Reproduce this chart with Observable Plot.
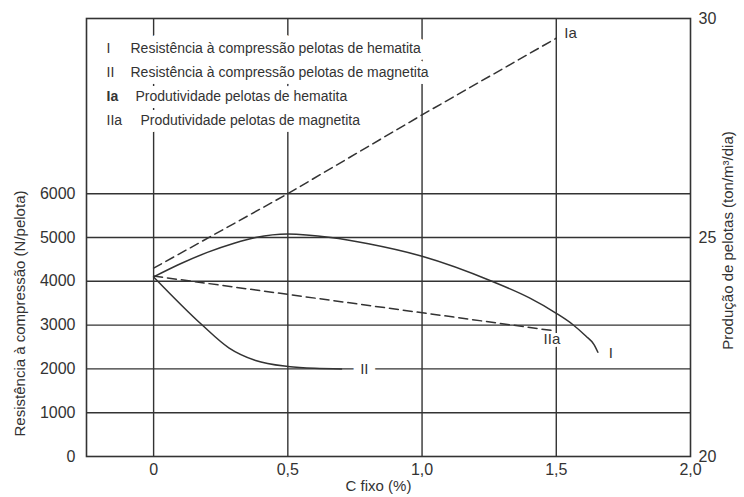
<!DOCTYPE html>
<html>
<head>
<meta charset="utf-8">
<script src="https://cdn.jsdelivr.net/npm/d3@7"></script>
<script src="https://cdn.jsdelivr.net/npm/@observablehq/plot@0.6"></script>
<style>
  html, body { margin: 0; padding: 0; background: white; }
</style>
</head>
<body>
<div id="chart"></div>
<script>
// ---- data ----
// Curve I: Resistência à compressão pelotas de hematita (N/pelota)
const cFixoI   = [0, 0.1, 0.2, 0.3, 0.38, 0.5, 0.66, 0.8, 1.0, 1.26, 1.4, 1.5, 1.56, 1.61, 1.64, 1.655];
const resistI  = [4100, 4400, 4660, 4870, 5000, 5080, 5000, 4855, 4570, 4000, 3620, 3270, 3020, 2750, 2560, 2380];
// Curve II: Resistência à compressão pelotas de magnetita (N/pelota)
const cFixoII  = [0, 0.18, 0.28, 0.38, 0.5, 0.6, 0.7];
const resistII = [4100, 3007, 2482, 2192, 2055, 2012, 2000];
// Curve Ia: Produtividade pelotas de hematita (ton/m³/dia)
const cFixoIa  = [0, 0.5, 1.0, 1.5];
const prodIa   = [24.3, 26.0, 27.8, 29.55];
// Curve IIa: Produtividade pelotas de magnetita (ton/m³/dia)
const cFixoIIa = [0, 1.48];
const prodIIa  = [24.12, 22.88];

const xTicks     = [0, 0.5, 1.0, 1.5, 2.0];
const leftTicks  = [0, 1000, 2000, 3000, 4000, 5000, 6000];
const rightTicks = [20, 25, 30];
const gridX      = [0, 0.5, 1.0, 1.5];
const gridY      = [1000, 2000, 3000, 4000, 5000, 6000];

const legendKeys   = ["I", "II", "Ia", "IIa"];
const legendLabels = [
  "Resistência à compressão pelotas de hematita",
  "Resistência à compressão pelotas de magnetita",
  "Produtividade pelotas de hematita",
  "Produtividade pelotas de magnetita"
];

// right axis (ton/m³/dia) is a linear map of the left axis: 20 + N/1000
const toLeft = v => (v - 20) * 1000;

const seriesI   = cFixoI.map((x, i) => ({x, y: resistI[i]}));
const seriesII  = cFixoII.map((x, i) => ({x, y: resistII[i]}));
const seriesIa  = cFixoIa.map((x, i) => ({x, y: toLeft(prodIa[i])}));
const seriesIIa = cFixoIIa.map((x, i) => ({x, y: toLeft(prodIIa[i])}));

const ink = "#333";
const fmtX = d => d === 0 ? "0" : d.toFixed(1).replace(".", ",");

const legendMarks = legendKeys.flatMap((k, i) => {
  const dy = 30 + i * 24;
  const labelDx = [44, 44, 49, 54][i];
  return [
    Plot.text([k], {frameAnchor: "top-left", dx: 20, dy, textAnchor: "start", lineAnchor: "middle",
      fontSize: 14, fontWeight: i === 2 ? "bold" : "normal", fill: ink}),
    Plot.text([legendLabels[i]], {frameAnchor: "top-left", dx: labelDx, dy, textAnchor: "start", lineAnchor: "middle",
      fontSize: 14, fill: ink, stroke: "white", strokeWidth: 14, strokeLinejoin: "round", paintOrder: "stroke"})
  ];
});

const last = a => [a[a.length - 1]];

const chart = Plot.plot({
  width: 744,
  height: 497,
  marginLeft: 86,
  marginRight: 54,
  marginTop: 18,
  marginBottom: 41,
  x: {domain: [-0.25, 2.0]},
  y: {domain: [0, 10000]},
  style: {fontFamily: "'Liberation Sans', Arial, sans-serif", color: ink, background: "white"},
  marks: [
    Plot.ruleY(gridY, {stroke: ink, strokeWidth: 1.4}),
    Plot.ruleX(gridX, {stroke: ink, strokeWidth: 1.4}),
    Plot.frame({stroke: ink, strokeWidth: 1.6}),
    ...legendMarks,
    Plot.line(seriesI, {x: "x", y: "y", curve: "monotone-x", stroke: ink, strokeWidth: 1.5}),
    Plot.line(seriesII, {x: "x", y: "y", curve: "monotone-x", stroke: ink, strokeWidth: 1.5}),
    Plot.line(seriesIa, {x: "x", y: "y", stroke: ink, strokeWidth: 1.5, strokeDasharray: "9,5"}),
    Plot.line(seriesIIa, {x: "x", y: "y", stroke: ink, strokeWidth: 1.5, strokeDasharray: "9,5"}),
    // curve labels
    Plot.text(last(seriesI), {x: "x", y: "y", text: () => "I", dx: 13, dy: 1, fontSize: 15, fill: ink}),
    Plot.text([{x: 0.785, y: 2000}], {x: "x", y: "y", text: () => "II", fontSize: 15, fill: ink,
      stroke: "white", strokeWidth: 16, paintOrder: "stroke"}),
    Plot.text(last(seriesIa), {x: "x", y: "y", text: () => "Ia", dx: 8, dy: -5, textAnchor: "start", fontSize: 15, fill: ink}),
    Plot.text(last(seriesIIa), {x: "x", y: "y", text: () => "IIa", dx: 1, dy: 9, fontSize: 15, fill: ink,
      stroke: "white", strokeWidth: 6, paintOrder: "stroke"}),
    // axes
    Plot.axisX({ticks: xTicks, tickSize: 0, tickPadding: 7, tickFormat: fmtX, fontSize: 16, label: null}),
    Plot.axisY({ticks: leftTicks, anchor: "left", tickSize: 0, tickPadding: 11, tickFormat: d => String(d), fontSize: 16, label: null}),
    Plot.axisY({ticks: rightTicks.map(toLeft), anchor: "right", tickSize: 0, tickPadding: 8,
      tickFormat: d => String(d / 1000 + 20), fontSize: 16, label: null}),
    // axis titles
    Plot.text(["C fixo (%)"], {frameAnchor: "bottom", dx: -10, dy: 34, fontSize: 15, fill: ink}),
    Plot.text(["Resistência à compressão (N/pelota)"], {frameAnchor: "left", textAnchor: "middle", dx: -66, dy: 76, rotate: -90, fontSize: 15, fill: ink}),
    Plot.text(["Produção de pelotas (ton/m³/dia)"], {frameAnchor: "right", textAnchor: "middle", dx: 38, dy: 3, rotate: -90, fontSize: 15, fill: ink})
  ]
});

document.getElementById("chart").appendChild(chart);
</script>
</body>
</html>
